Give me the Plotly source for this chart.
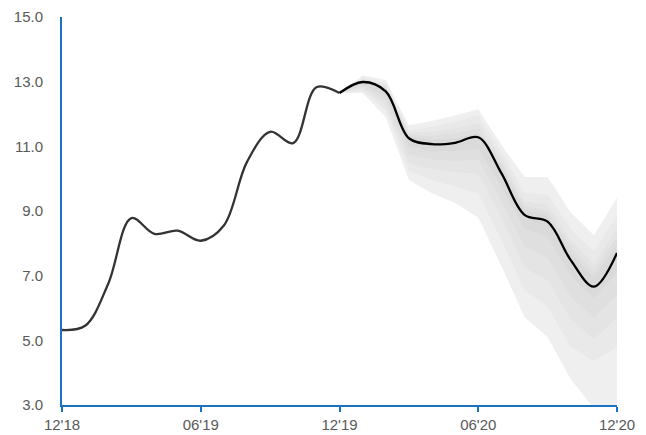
import plotly.graph_objects as go

# monthly index: 0 = 12'18 ... 24 = 12'20
months_hist = list(range(0, 13))
hist_values = [5.32, 5.45, 6.75, 8.78, 8.29, 8.39, 8.08, 8.55, 10.52, 11.45, 11.10, 12.83, 12.65]

months_fc = list(range(12, 25))
fc_values = [12.65, 12.99, 12.70, 11.25, 11.07, 11.11, 11.28, 10.17, 8.88, 8.67, 7.48, 6.66, 7.70]

# fan band boundaries (outer -> inner)
upper_1 = [12.65, 13.20, 13.05, 11.65, 11.78, 11.95, 12.15, 11.05, 10.05, 10.05, 8.95, 8.25, 9.40]
upper_2 = [12.65, 13.12, 12.95, 11.50, 11.60, 11.75, 11.95, 10.85, 9.55, 9.50, 8.45, 7.75, 8.85]
upper_3 = [12.65, 13.07, 12.88, 11.42, 11.45, 11.55, 11.72, 10.65, 9.30, 9.20, 8.10, 7.35, 8.45]
upper_4 = [12.65, 13.05, 12.83, 11.36, 11.32, 11.40, 11.55, 10.50, 9.15, 9.00, 7.90, 7.15, 8.20]
upper_5 = [12.65, 13.03, 12.78, 11.32, 11.20, 11.25, 11.40, 10.35, 9.05, 8.85, 7.70, 6.95, 7.95]

lower_5 = [12.65, 12.92, 12.55, 11.00, 10.85, 10.85, 10.95, 9.75, 8.45, 8.20, 7.00, 6.30, 7.10]
lower_4 = [12.65, 12.85, 12.40, 10.75, 10.60, 10.55, 10.60, 9.30, 7.90, 7.55, 6.35, 5.70, 6.40]
lower_3 = [12.65, 12.80, 12.25, 10.50, 10.30, 10.20, 10.15, 8.80, 7.25, 6.85, 5.65, 5.05, 5.70]
lower_2 = [12.65, 12.72, 12.10, 10.25, 9.95, 9.75, 9.55, 8.10, 6.55, 6.05, 4.80, 4.35, 4.80]
lower_1 = [12.65, 12.65, 11.90, 9.96, 9.55, 9.25, 8.80, 7.30, 5.72, 5.10, 3.80, 2.90, 2.70]

band_colors = ["#efefef", "#e9e9e9", "#e4e4e4", "#dfdfdf", "#dadada"]

tick_vals = [0, 6, 12, 18, 24]
tick_text = ["12'18", "06'19", "12'19", "06'20", "12'20"]

fig = go.Figure()

bands = [(upper_1, lower_1), (upper_2, lower_2), (upper_3, lower_3),
         (upper_4, lower_4), (upper_5, lower_5)]
for (up, lo), col in zip(bands, band_colors):
    fig.add_trace(go.Scatter(
        x=months_fc + months_fc[::-1],
        y=up + lo[::-1],
        fill="toself", fillcolor=col,
        line=dict(width=0), mode="lines",
        hoverinfo="skip", showlegend=False,
    ))

fig.add_trace(go.Scatter(
    x=months_hist, y=hist_values, mode="lines",
    line=dict(color="#333333", width=2.3, shape="spline", smoothing=1.0),
    showlegend=False,
))
fig.add_trace(go.Scatter(
    x=months_fc, y=fc_values, mode="lines",
    line=dict(color="#000000", width=2.3, shape="spline", smoothing=1.0),
    showlegend=False,
))

axis_blue = "#1b72c4"
fig.update_layout(
    width=646, height=435,
    margin=dict(l=62, r=29, t=17, b=30),
    paper_bgcolor="white", plot_bgcolor="white",
    font=dict(family="Liberation Sans, Arial, sans-serif", size=15, color="#595959"),
    showlegend=False,
)
fig.update_xaxes(
    range=[0, 24], tickvals=tick_vals, ticktext=tick_text,
    showline=True, linecolor=axis_blue, linewidth=2,
    ticks="outside", ticklen=5, tickcolor=axis_blue, tickwidth=1.5,
    showgrid=False, zeroline=False, automargin=False,
)
fig.update_yaxes(
    range=[3, 15], dtick=2, tick0=3, tickformat=".1f",
    showline=True, linecolor=axis_blue, linewidth=2,
    ticks="", ticklabelstandoff=14,
    showgrid=False, zeroline=False, automargin=False,
)

fig.write_html(
    "out.html",
    config={"displayModeBar": False},
    post_script="document.body.style.margin='0';document.body.style.overflow='hidden';",
)
